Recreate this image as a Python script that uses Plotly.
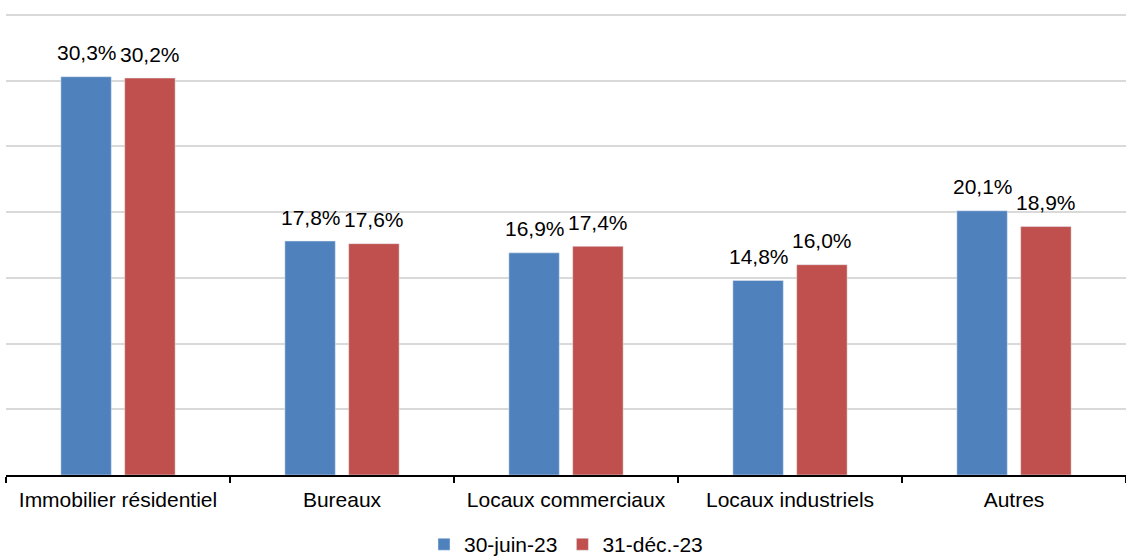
import plotly.graph_objects as go

categories = ["Immobilier résidentiel", "Bureaux", "Locaux commerciaux", "Locaux industriels", "Autres"]
series_names = ["30-juin-23", "31-déc.-23"]
values_jun = [30.3, 17.8, 16.9, 14.8, 20.1]
values_dec = [30.2, 17.6, 17.4, 16.0, 18.9]
colors = ["#4f81bd", "#c0504d"]
label_font = dict(size=21, color="#000000", family="Liberation Sans, Arial")

def fmt(v):
    return f"{v:.1f}".replace(".", ",") + "%"

fig = go.Figure()
for name, vals, col in zip(series_names, [values_jun, values_dec], colors):
    fig.add_trace(go.Bar(x=categories, y=vals, name=name, marker_color=col))

# value labels above bars (grouped offsets: -/+ half a slot)
for vals, xs in zip([values_jun, values_dec], [-31.5, 31.5]):
    for c, v in zip(categories, vals):
        fig.add_annotation(x=c, y=v, text=fmt(v), showarrow=False,
                           xshift=xs, yshift=24, yanchor="middle",
                           font=label_font)

fig.update_layout(
    width=1126, height=560,
    margin=dict(l=6, r=0, t=11, b=85, autoexpand=False),
    paper_bgcolor="white", plot_bgcolor="white",
    barmode="group", bargap=0.43, bargroupgap=0.21,
    font=dict(family="Liberation Sans, Arial", size=21, color="#000000"),
    legend=dict(orientation="h", x=0.5, xanchor="center", y=-0.150, yanchor="middle",
                font=dict(size=21), itemwidth=30, traceorder="normal"),
    showlegend=True,
)
fig.update_xaxes(
    showline=True, linecolor="#000000", linewidth=1.5,
    ticks="outside", tickson="boundaries", ticklen=6, tickcolor="#000000", tickwidth=1.5,
    tickfont=dict(size=21), ticklabelstandoff=5, showgrid=False,
)
fig.update_yaxes(
    range=[0, 35.3], tickvals=[5, 10, 15, 20, 25, 30, 35], showticklabels=False, showgrid=True,
    gridcolor="#d9d9d9", gridwidth=1.5, zeroline=False, showline=False,
)
fig.write_html("out.html", config={"displayModeBar": False},
               post_script="document.body.style.margin='0';document.body.style.overflow='hidden';")
